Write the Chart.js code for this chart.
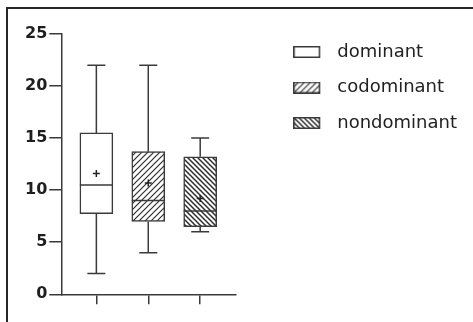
<!DOCTYPE html>
<html>
<head>
<meta charset="utf-8">
<script src="https://cdn.jsdelivr.net/npm/chart.js@4"></script>
<style>
  html, body { margin: 0; padding: 0; background: #ffffff; }
  #wrap { position: relative; width: 473px; height: 322px; overflow: hidden; }
  #frame { position: absolute; left: 6px; top: 7px; width: 600px; height: 400px;
           border-top: 2px solid #262626; border-left: 2px solid #262626; }
  #chart { position: absolute; left: 0; top: 0; }
</style>
</head>
<body>
<div id="wrap">
  <div id="frame"></div>
  <canvas id="chart" width="473" height="322"></canvas>
</div>
<script>
// Box-plot summary per group
const categories = ['dominant', 'codominant', 'nondominant'];
const whiskerLow = [2, 4, 6];
const quartile1 = [7.75, 7, 6.5];
const medians = [10.5, 9, 8];
const quartile3 = [15.5, 13.7, 13.2];
const whiskerHigh = [22, 22, 15];
const means = [11.6, 10.7, 9.2];
const yTicks = [0, 5, 10, 15, 20, 25];

const INK = '#3a3a3a';

// Hatch tiles: 'none', forward slash, back slash
function hatchTile(kind) {
  if (kind === 'none') return '#ffffff';
  const s = kind === 'fwd' ? 6 : 5;
  const c = document.createElement('canvas');
  c.width = s; c.height = s;
  const g = c.getContext('2d');
  g.fillStyle = '#ffffff';
  g.fillRect(0, 0, s, s);
  g.strokeStyle = '#2e2e2e';
  g.lineWidth = kind === 'fwd' ? 1.2 : 1.5;
  g.beginPath();
  if (kind === 'fwd') {
    g.moveTo(0, s); g.lineTo(s, 0);
    g.moveTo(-1, 1); g.lineTo(1, -1);
    g.moveTo(s - 1, s + 1); g.lineTo(s + 1, s - 1);
  } else {
    g.moveTo(0, 0); g.lineTo(s, s);
    g.moveTo(-1, s - 1); g.lineTo(1, s + 1);
    g.moveTo(s - 1, -1); g.lineTo(s + 1, 1);
  }
  g.stroke();
  return g.createPattern(c, 'repeat');
}
const hatchKinds = ['none', 'fwd', 'back'];
const fills = hatchKinds.map(hatchTile);

// Legend swatches: a small hatched box followed by blank space before the text
function swatch(fill) {
  const c = document.createElement('canvas');
  c.width = 35; c.height = 12;
  const g = c.getContext('2d');
  g.fillStyle = fill;
  g.fillRect(0.75, 0.75, 25.5, 10.5);
  g.strokeStyle = INK;
  g.lineWidth = 1.5;
  g.strokeRect(0.75, 0.75, 25.5, 10.5);
  return c;
}
const swatches = fills.map(swatch);

// Whisker segments (q3 -> max, q1 -> min), separated by gaps
const whiskerPoints = [];
categories.forEach((_, i) => {
  whiskerPoints.push({ x: i, y: quartile3[i] }, { x: i, y: whiskerHigh[i] }, { x: i, y: null });
  whiskerPoints.push({ x: i, y: quartile1[i] }, { x: i, y: whiskerLow[i] }, { x: i, y: null });
});
const capPoints = [];
categories.forEach((_, i) => {
  capPoints.push({ x: i, y: whiskerHigh[i] }, { x: i, y: whiskerLow[i] });
});

const boxDatasets = categories.map((name, i) => ({
  type: 'bar',
  label: name,
  data: [{ x: i, y: [quartile1[i], quartile3[i]] }],
  backgroundColor: fills[i],
  borderColor: INK,
  borderWidth: 1.5,
  borderSkipped: false,
  barThickness: 33,
  grouped: false,
  order: 3
}));

new Chart(document.getElementById('chart'), {
  type: 'bar',
  data: {
    datasets: [
      ...boxDatasets,
      {
        type: 'line',
        data: whiskerPoints,
        borderColor: INK,
        borderWidth: 1.5,
        pointRadius: 0,
        spanGaps: false,
        order: 2
      },
      {
        type: 'scatter',
        data: capPoints,
        pointStyle: 'line',
        radius: 9,
        borderColor: INK,
        borderWidth: 1.5,
        order: 1
      },
      {
        type: 'scatter',
        data: categories.map((_, i) => ({ x: i, y: medians[i] })),
        pointStyle: 'line',
        radius: 16.5,
        borderColor: INK,
        borderWidth: 1.5,
        order: 1
      },
      {
        type: 'scatter',
        data: categories.map((_, i) => ({ x: i, y: means[i] })),
        pointStyle: 'cross',
        radius: 3.5,
        borderColor: '#222',
        borderWidth: 1.5,
        order: 1
      }
    ]
  },
  options: {
    responsive: false,
    animation: false,
    events: [],
    layout: { padding: { left: 23, top: 34, right: 6, bottom: 17.7 } },
    scales: {
      x: {
        type: 'linear',
        offset: false,
        min: -0.676,
        max: 2.676,
        afterBuildTicks: (axis) => { axis.ticks = categories.map((_, i) => ({ value: i })); },
        ticks: { display: false },
        grid: { offset: false, drawOnChartArea: false, drawTicks: true, tickLength: 10, color: INK, lineWidth: 1.5 },
        border: { color: INK, width: 1.5 }
      },
      y: {
        min: 0,
        max: 25,
        afterBuildTicks: (axis) => { axis.ticks = yTicks.map(v => ({ value: v })); },
        ticks: { color: '#1e1e1e', padding: 2, font: { family: 'DejaVu Sans', size: 16, weight: 'bold' } },
        grid: { drawOnChartArea: false, drawTicks: true, tickLength: 12, color: INK, lineWidth: 1.5 },
        border: { color: INK, width: 1.5 }
      },
      gap: {
        type: 'linear',
        axis: 'y',
        position: 'right',
        display: true,
        grid: { display: false },
        border: { display: false },
        ticks: { display: false },
        afterFit: (scale) => { scale.width = 49; }
      }
    },
    plugins: {
      tooltip: { enabled: false },
      legend: {
        position: 'right',
        align: 'start',
        maxWidth: 188,
        labels: {
          usePointStyle: true,
          pointStyleWidth: 35,
          padding: 9,
          color: '#222',
          font: { family: 'DejaVu Sans', size: 18, lineHeight: 26.5 / 18 },
          filter: (item) => item.datasetIndex < categories.length,
          generateLabels: (chart) => {
            const items = Chart.defaults.plugins.legend.labels.generateLabels(chart);
            items.forEach((it) => {
              if (it.datasetIndex < categories.length) {
                it.pointStyle = swatches[it.datasetIndex];
                it.text = [it.text];
              }
            });
            return items;
          }
        }
      }
    }
  }
});
</script>
</body>
</html>
